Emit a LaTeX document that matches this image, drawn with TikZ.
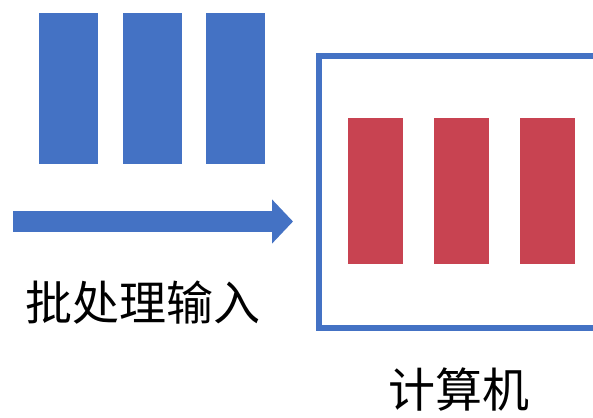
\documentclass[tikz,border=0pt]{standalone}
\usepackage{fontspec}
\newfontfamily\cjkfont{Noto Sans CJK SC}
\usetikzlibrary{arrows.meta}
\definecolor{barblue}{RGB}{68,114,196}
\definecolor{barred}{RGB}{200,67,81}

\begin{document}
\begin{tikzpicture}[x=1pt,y=-1pt,
    inbar/.style={rectangle,fill=barblue,inner sep=0pt,minimum width=59pt,minimum height=151pt},
    cpubar/.style={rectangle,fill=barred,inner sep=0pt,minimum width=55pt,minimum height=146pt},
    cjktext/.style={font=\cjkfont\fontsize{47}{50}\selectfont,inner sep=0pt}]
      \clip (0,0) rectangle (593,417);
      % input batch
      \node[inbar](in1) at (68.5,88.5){};
      \node[inbar](in2) at (152,88.5){};
      \node[inbar](in3) at (235.5,88.5){};
      \coordinate(arrowstart) at (13,221.5);
      \coordinate(arrowtip) at (293,221.5);
      \draw[barblue,line width=21pt,-{Triangle[width=43pt,length=21pt]}](arrowstart)--(arrowtip);
      \node[cjktext](batch) at (143,303){批处理输入};
      % computer
      \node[draw=barblue,line width=6pt,rectangle,inner sep=0pt,
            minimum width=321pt,minimum height=271.5pt](computer) at (479.5,191.75){};
      \node[cpubar](cpu1) at (375.5,191){};
      \node[cpubar](cpu2) at (461,191){};
      \node[cpubar](cpu3) at (547.5,191){};
      \node[cjktext](computername) at (459,390){计算机};
    \end{tikzpicture}
\end{document}
